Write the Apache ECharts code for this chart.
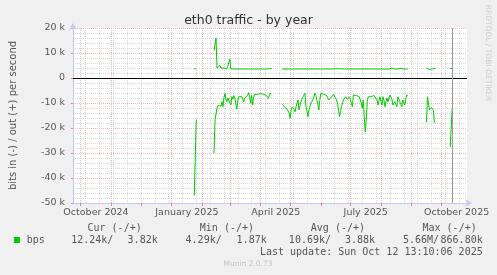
<!DOCTYPE html>
<html><head><meta charset="utf-8">
<script src="https://cdn.jsdelivr.net/npm/echarts@6/dist/echarts.min.js"></script>
<style>html,body{margin:0;padding:0;background:#f0f0f0}#c{width:497px;height:275px}</style>
</head><body><div id="c"></div>
<script>
// ---- data (values in kbit/s, one per day starting at startDate) ----
const startDate = '2025-01-22';
const outKbps = [
 null,null,3.8,3.8,3.5,null,null,null,null,null,
 null,null,null,null,null,null,null,null,null,null,
 null,null,11.0,11.0,16.0,4.0,4.0,4.5,5.0,4.0,
 4.4,4.8,4.0,3.8,3.7,3.7,3.7,4.5,7.5,3.6,
 3.6,3.6,3.6,3.6,3.6,3.6,3.6,3.6,3.6,3.8,
 3.6,3.6,3.6,3.6,3.6,3.6,3.6,3.6,3.6,3.6,
 3.6,3.6,3.6,3.6,3.6,3.6,3.6,3.6,3.6,3.6,
 3.6,3.6,3.6,3.6,3.6,3.6,3.6,3.6,3.7,3.8,
 3.9,null,null,null,null,null,null,null,null,null,
 null,3.6,3.6,3.6,3.6,3.6,3.6,3.6,3.6,3.6,
 3.6,3.6,3.6,3.6,3.6,3.6,3.6,3.6,3.6,3.6,
 3.6,3.6,3.6,3.6,3.6,3.6,3.6,3.6,3.6,3.6,
 3.6,3.6,3.6,3.6,3.6,3.6,3.6,3.6,3.6,3.6,
 3.6,3.6,3.6,3.6,3.6,3.6,3.6,3.6,3.6,3.6,
 3.9,3.7,3.6,3.8,4.0,3.7,3.6,3.9,3.7,3.6,
 3.9,3.7,3.6,3.7,3.6,3.6,3.6,3.6,3.6,3.6,
 3.6,3.6,3.6,3.6,3.6,3.6,3.6,3.6,3.6,3.6,
 3.6,3.6,3.6,3.6,3.6,3.6,3.6,3.6,3.6,3.6,
 3.6,3.6,3.6,3.6,3.6,3.6,3.6,3.6,3.6,3.6,
 3.6,3.6,3.6,3.6,3.6,3.6,3.6,3.6,3.6,3.6,
 3.6,3.7,4.0,3.8,3.6,3.6,3.6,3.6,3.6,3.6,
 3.7,3.9,3.7,3.6,3.6,3.6,3.6,3.6,3.6,null,
 null,null,null,null,null,null,null,null,null,null,
 null,null,null,null,null,null,null,3.9,3.6,3.2,
 3.4,3.7,3.7,3.7,3.7,3.8,3.8,null,null,null,
 null,null,null,null,null,null,null,null,null,null,
 null,3.8,3.8,3.82
];
const inKbps = [
 null,null,-47,-47,-16.5,null,null,null,null,null,
 null,null,null,null,null,null,null,null,null,null,
 null,null,-30,-16.5,-14.5,-12.0,-11.0,-11.5,-10.8,-11.2,
 -9.5,-11.5,-8.0,-6.2,-8.5,-9.5,-8.0,-7.5,-8.8,-10.8,
 -7.5,-8.5,-7.0,-8.0,-8.1,-12.5,-9.0,-7.5,-8.0,-7.2,
 -7.5,-8.5,-9.5,-8.0,-7.5,-8.1,-7.0,-5.8,-7.5,-10.1,
 -7.0,-10.8,-8.0,-6.5,-7.0,-6.0,-6.5,-6.1,-6.8,-6.2,
 -7.0,-6.0,-6.5,-6.5,-6.1,-7.0,-7.5,-8.1,-7.0,-6.1,
 -6.5,null,null,null,null,null,null,null,null,null,
 null,-10.4,-11.0,-11.5,-11.0,-12.0,-12.5,-12.8,-14.0,-16.1,
 -13.0,-11.5,-12.0,-12.5,-13.5,-11.5,-10.0,-8.8,-12.8,-11.0,
 -9.5,-8.5,-7.5,-7.0,-6.1,-11.5,-13.0,-15.5,-13.0,-11.5,
 -10.0,-9.5,-8.8,-7.5,-6.1,-7.0,-8.8,-10.5,-12.8,-9.0,
 -6.1,-6.5,-6.1,-6.5,-6.8,-6.1,-7.0,-7.5,-8.8,-8.0,
 -8.8,-7.5,-6.8,-6.5,-6.1,-7.0,-8.8,-10.5,-12.8,-15.5,
 -13.5,-11.5,-10.0,-8.8,-8.0,-7.5,-8.0,-8.5,-8.8,-7.5,
 -8.5,-10.1,-11.5,-6.8,-7.5,-6.1,-7.0,-7.5,-6.8,-7.5,
 -8.8,-10.0,-12.1,-8.8,-15.5,-21.5,-17.0,-9.5,-7.5,-7.5,
 -8.1,-7.5,-6.8,-7.5,-7.0,-6.8,-7.5,-8.8,-10.8,-9.0,
 -7.5,-9.5,-10.8,-7.5,-9.0,-11.5,-9.5,-8.1,-9.5,-8.0,
 -6.8,-6.8,-8.5,-10.8,-10.0,-9.5,-10.5,-11.5,-7.5,-8.5,
 -9.5,-10.5,-11.5,-8.8,-9.5,-10.8,-8.5,-6.8,-7.0,null,
 null,null,null,null,null,null,null,null,null,null,
 null,null,null,null,null,null,null,-17.7,-7.5,-7.8,
 -12.8,-12.5,-11.8,-11.5,-13.0,-17.7,-17.7,null,null,null,
 null,null,null,null,null,null,null,null,null,null,
 null,-27.7,-27.7,-12.24
];
// axis range / ticks
const xStart = '2024-09-23T06:00:00Z';
const xEnd = '2025-10-27T00:00:00Z';
const lastUpdate = '2025-10-12T13:10:06Z';
const xLabelDates = ['2024-10-16','2025-01-16','2025-04-16','2025-07-16','2025-10-16'];
const xLabelTexts = ['October 2024','January 2025','April 2025','July 2025','October 2025'];
const monthStarts = ['2024-10-01','2024-11-01','2024-12-01','2025-01-01','2025-02-01','2025-03-01','2025-04-01','2025-05-01','2025-06-01','2025-07-01','2025-08-01','2025-09-01','2025-10-01'];
const minorGridStart = '2024-10-06';
// legend
const legendHeaders = ['Cur (-/+)','Min (-/+)','Avg (-/+)','Max (-/+)'];
const legendIn = ['12.24k/','4.29k/','10.69k/','5.66M/'];
const legendOut = ['3.82k','1.87k','3.88k','866.80k'];
const seriesName = 'bps';

// ---- build ----
const DAY = 86400000;
const t0 = Date.parse(startDate + 'T00:00:00Z');
const outData = outKbps.map((v,i)=>[t0+i*DAY, v]);
const inData = inKbps.map((v,i)=>[t0+i*DAY, v]);
const labelTs = xLabelDates.map(d=>Date.parse(d+'T12:00:00Z'));
const monthTs = monthStarts.map(d=>Date.parse(d+'T00:00:00Z'));
const minorTs = [];
for (let t = Date.parse(minorGridStart+'T00:00:00Z'); t < Date.parse(xEnd); t += 14*DAY) minorTs.push(t);

const mono = 'DejaVu Sans Mono';
const sans = 'DejaVu Sans';
const txtCol = '#555';
const graphics = [];
const headerRight = [141.7, 254, 365, 476.7];
const inRight = [113.3, 221.7, 331, 439];
const outRight = [157.7, 266.7, 375, 482.7];
const T = (x,y,text,font,fill,align)=>({type:'text',x:x,y:y,style:{text:text,font:font,fill:fill,align:align,verticalAlign:'middle'}});
legendHeaders.forEach((h,k)=>graphics.push(T(headerRight[k],228,h,'10px '+mono,txtCol,'right')));
legendIn.forEach((h,k)=>graphics.push(T(inRight[k],240,h,'10px '+mono,txtCol,'right')));
legendOut.forEach((h,k)=>graphics.push(T(outRight[k],240,h,'10px '+mono,txtCol,'right')));
graphics.push({type:'rect',shape:{x:14,y:237,width:6,height:6},style:{fill:'#00cc00'}});
graphics.push(T(26.7,240,seriesName,'10px '+mono,txtCol,'left'));
const lu = new Date(lastUpdate);
const dn = ['Sun','Mon','Tue','Wed','Thu','Fri','Sat'], mn=['Jan','Feb','Mar','Apr','May','Jun','Jul','Aug','Sep','Oct','Nov','Dec'];
const p2 = n=>String(n).padStart(2,'0');
const luText = 'Last update: '+dn[lu.getUTCDay()]+' '+mn[lu.getUTCMonth()]+' '+lu.getUTCDate()+' '+p2(lu.getUTCHours())+':'+p2(lu.getUTCMinutes())+':'+p2(lu.getUTCSeconds())+' '+lu.getUTCFullYear();
graphics.push(T(482.7,252,luText,'10px '+mono,txtCol,'right'));
graphics.push(T(248,264,'Munin 2.0.73','7.5px '+sans,'#c4c4c4','center'));
const rr = T(488,53,'RRDTOOL / TOBI OETIKER','7.5px '+sans,'#cdcdcd','center');
rr.rotation = -Math.PI/2;
graphics.push(rr);

const axisBlue = '#c8c8f0';
const chart = echarts.init(document.getElementById('c'), null, {renderer:'canvas'});
chart.setOption({
  animation:false,
  backgroundColor:'#f0f0f0',
  title:{text:'eth0 traffic - by year',left:'center',top:9,textStyle:{fontFamily:sans,fontSize:12.5,fontWeight:'normal',color:'#333'}},
  grid:{left:67,top:28,width:400,height:175,show:true,backgroundColor:'#ffffff',borderWidth:0,containLabel:false},
  xAxis:[{
    type:'value',min:Date.parse(xStart),max:Date.parse(xEnd),position:'bottom',
    axisLine:{show:true,onZero:false,lineStyle:{color:axisBlue,width:1},symbol:['none','arrow'],symbolSize:[6,7],symbolOffset:[0,5]},
    axisTick:{show:true,customValues:monthTs,length:3,inside:false,lineStyle:{color:'#f08080'}},
    splitLine:{show:true,lineStyle:{color:'#f2b8b8',type:[1,1],width:1}},
    axisLabel:{customValues:labelTs,formatter:(v)=>{const k=labelTs.indexOf(v);return k>=0?xLabelTexts[k]:'';},fontFamily:sans,fontSize:9.5,color:txtCol,margin:5,hideOverlap:false}
  },{
    type:'value',min:Date.parse(xStart),max:Date.parse(xEnd),position:'top',
    axisLine:{show:false},
    axisTick:{show:false,customValues:minorTs},
    axisLabel:{show:false},
    splitLine:{show:true,lineStyle:{color:'#d8d8d8',type:[1,1],width:1}}
  }],
  yAxis:{
    type:'value',min:-50,max:20,interval:10,
    name:'bits in (-) / out (+) per second',nameLocation:'middle',nameRotate:90,nameGap:55,
    nameTextStyle:{fontFamily:sans,fontSize:10,color:txtCol},
    axisLine:{show:true,onZero:false,lineStyle:{color:axisBlue,width:1},symbol:['none','arrow'],symbolSize:[6,7],symbolOffset:[0,5]},
    axisTick:{show:true,length:2,lineStyle:{color:'#f08080'}},
    axisLabel:{formatter:v=>v===0?'0':v+' k',fontFamily:sans,fontSize:9.5,color:txtCol,margin:8},
    splitLine:{show:true,lineStyle:{color:'#f2b8b8',type:[1,1],width:1}},
    minorTick:{show:false,splitNumber:5},
    minorSplitLine:{show:true,lineStyle:{color:'#d8d8d8',type:[1,1],width:1}}
  },
  graphic:graphics,
  series:[{
    name:'in',type:'line',xAxisIndex:0,data:inData,showSymbol:false,connectNulls:false,
    lineStyle:{color:'#00cc00',width:1},itemStyle:{color:'#00cc00'},z:3,
    markLine:{silent:true,symbol:'none',label:{show:false},animation:false,
      data:[{yAxis:0,lineStyle:{color:'#000',type:'solid',width:1}},
            {xAxis:Date.parse(lastUpdate),lineStyle:{color:'#999',type:'solid',width:1}}]}
  },{
    name:'out',type:'line',xAxisIndex:0,data:outData,showSymbol:false,connectNulls:false,
    lineStyle:{color:'#00cc00',width:1},itemStyle:{color:'#00cc00'},z:3
  }]
});
</script></body></html>
